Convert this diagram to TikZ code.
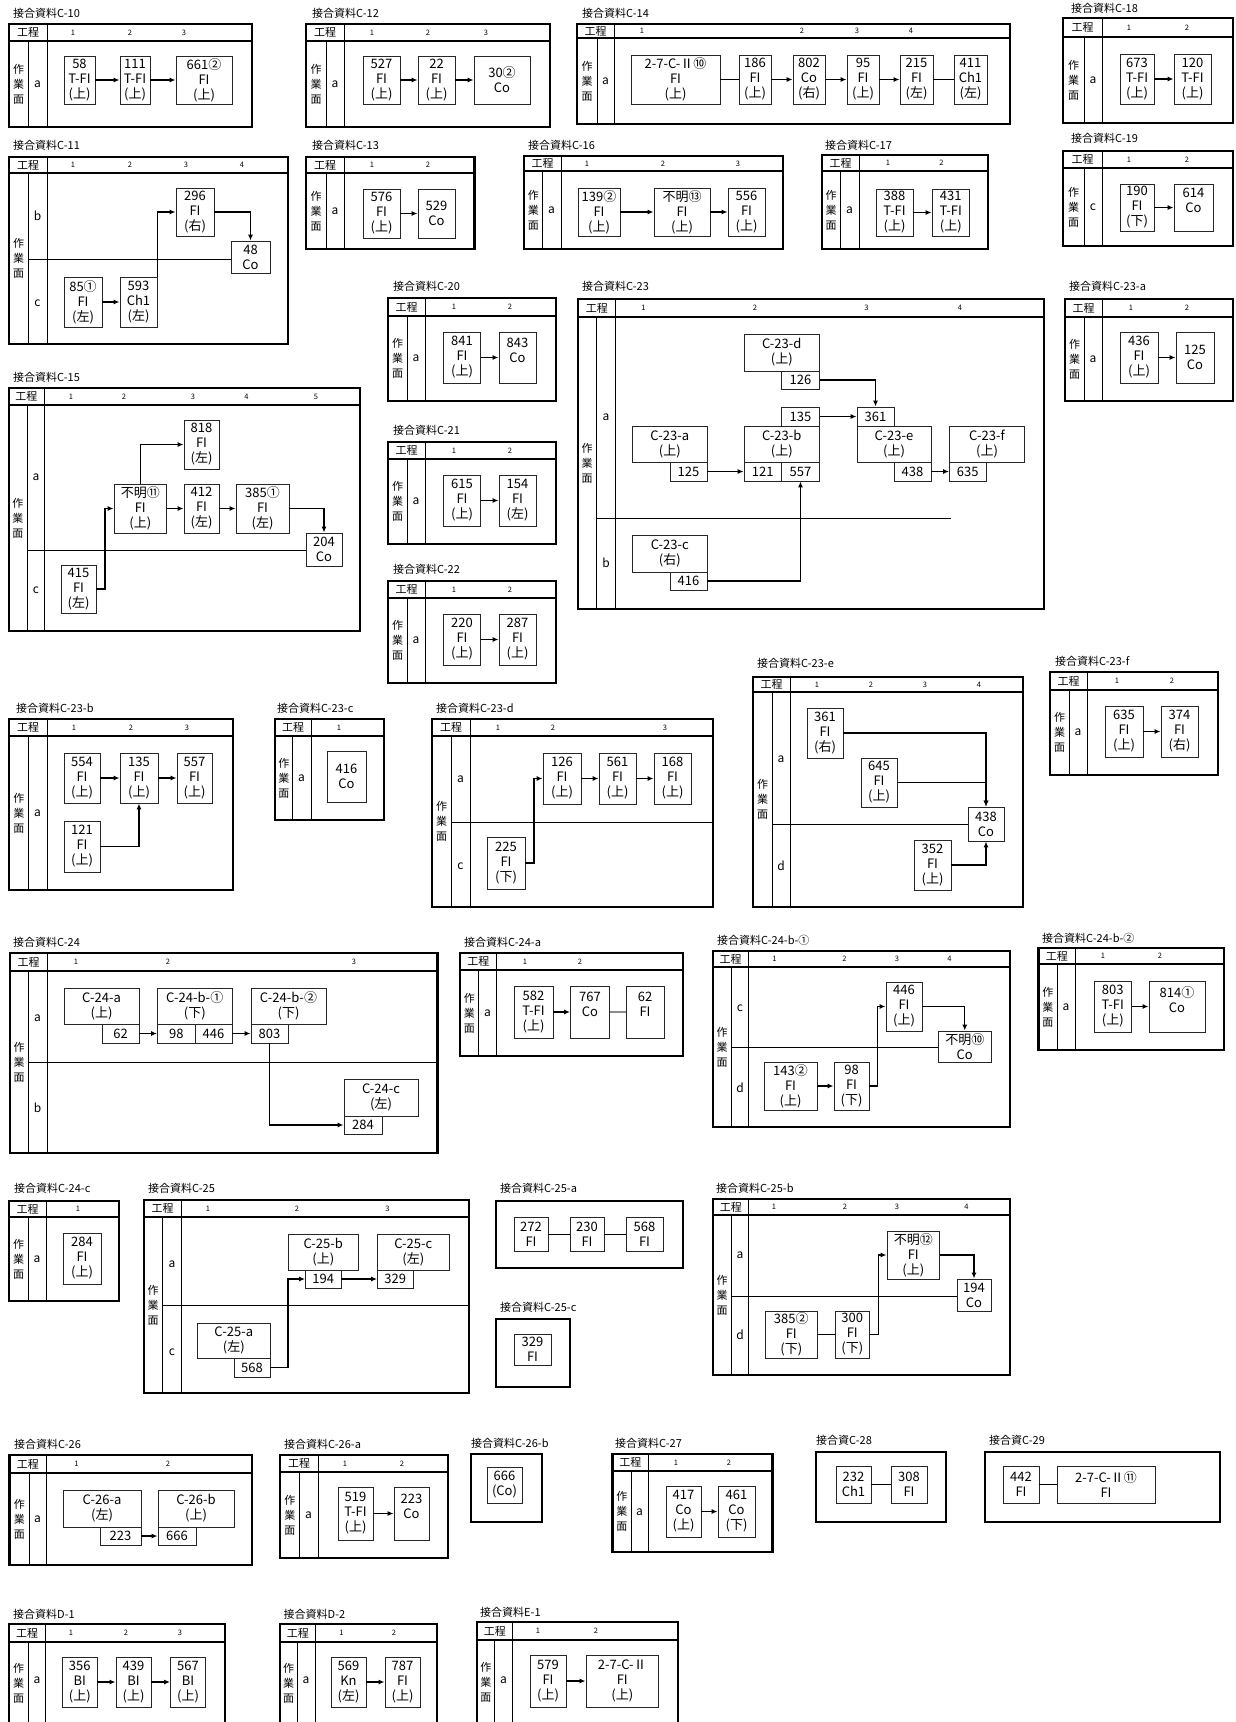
\documentclass[tikz,border=0pt]{standalone}
\usepackage{fontspec}
\setmainfont{Noto Sans CJK JP}
\usetikzlibrary{arrows.meta,calc}

% panel frame: id, left, top, right, bottom, header line, lane column, body column
\newcommand\panel[8]{%
  \draw[frm] (#2,#3) rectangle (#4,#5);
  \draw[hdr] (#2,#6) -- (#4,#6);
  \draw[rule] (#7,#6) -- (#7,#5);
  \draw[rule] (#8,#3) -- (#8,#5);
  \node[hd] (#1k) at ({(#2+#8)/2},{(#3+#6)/2}) {工程};
  \node[wk] (#1w) at ({(#2+#7)/2},{(#6+#5)/2}) {作\\業\\面};
}
% box by its corners: name, x1, y1, x2, y2, text
\newcommand\bx[6]{%
  \node[bx, minimum width={(#4-#2)*1pt}, minimum height={(#5-#3)*1pt}]
    (#1) at ({(#2+#4)/2},{(#3+#5)/2}) {#6};
}

\begin{document}
\begin{tikzpicture}[x=1pt, y=-1pt,
  frm/.style={line width=2.2pt},
  hdr/.style={line width=2pt},
  rule/.style={line width=0.8pt},
  bx/.style={draw=black!85, line width=0.9pt, fill=white, align=center,
             inner sep=0pt, font=\fontsize{13}{15}\selectfont},
  ttl/.style={anchor=west, inner sep=0pt, font=\fontsize{11}{12}\selectfont},
  hd/.style={inner sep=0pt, font=\fontsize{11}{12}\selectfont},
  wk/.style={inner sep=0pt, align=center, font=\fontsize{11}{15}\selectfont},
  cn/.style={inner sep=0pt, font=\fontsize{7.5}{8}\selectfont},
  lane/.style={inner sep=0pt, font=\fontsize{12}{12}\selectfont},
  arr/.style={-{Latex[length=6pt,width=5pt]}, line width=1.3pt},
  lnk/.style={line width=1.3pt}
]
\useasboundingbox (0,0) rectangle (1236,1722);

% C-10
\node[ttl] (tC10) at (13,13) {接合資料C-10};
\panel{pC10}{9}{24}{252}{127}{41}{28}{47}
\foreach \x/\n in {73/1,130/2,184/3} \node[cn] (pC10h\n) at (\x,32.5) {\n};
\node[lane] (pC10a) at (37.5,84) {a};
\bx{c10n58}{64}{56}{95}{104}{58\\T-FI\\(上)}
\bx{c10n111}{120}{56}{150}{104}{111\\T-FI\\(上)}
\bx{c10n661}{176}{56}{232}{104}{661②\\FI\\(上)}
\draw[arr] (c10n58) -- (c10n111);
\draw[arr] (c10n111) -- (c10n661);

% C-12
\node[ttl] (tC12) at (312,13) {接合資料C-12};
\panel{pC12}{306}{24}{550}{127}{41}{326}{344}
\foreach \x/\n in {372/1,428/2,486/3} \node[cn] (pC12h\n) at (\x,32.5) {\n};
\node[lane] (pC12a) at (335,84) {a};
\bx{c12n527}{363}{56}{400}{104}{527\\FI\\(上)}
\bx{c12n22}{418}{56}{455}{104}{22\\FI\\(上)}
\bx{c12n30}{474}{56}{530}{104}{30②\\Co}
\draw[arr] (c12n527) -- (c12n22);
\draw[arr] (c12n22) -- (c12n30);

% C-14
\node[ttl] (tC14) at (582,13) {接合資料C-14};
\panel{pC14}{577}{24}{1010}{124}{38}{597}{614}
\foreach \x/\n in {642/1,802/2,857/3,911/4} \node[cn] (pC14h\n) at (\x,31) {\n};
\node[lane] (pC14a) at (605.5,81) {a};
\bx{c14n27}{631}{55}{720}{104}{2-7-C-Ⅱ⑩\\FI\\(上)}
\bx{c14n186}{739}{55}{771}{104}{186\\FI\\(上)}
\bx{c14n802}{793}{55}{825}{104}{802\\Co\\(右)}
\bx{c14n95}{847}{55}{879}{104}{95\\FI\\(上)}
\bx{c14n215}{900}{55}{933}{104}{215\\FI\\(左)}
\bx{c14n411}{954}{55}{987}{104}{411\\Ch1\\(左)}
\draw[lnk] (c14n27) -- (c14n186);
\draw[arr] (c14n186) -- (c14n802);
\draw[arr] (c14n802) -- (c14n95);
\draw[arr] (c14n95) -- (c14n215);
\draw[lnk] (c14n215) -- (c14n411);

% C-18
\node[ttl] (tC18) at (1071,8) {接合資料C-18};
\panel{pC18}{1063}{18}{1233}{123}{37}{1084}{1102}
\foreach \x/\n in {1129/1,1187/2} \node[cn] (pC18h\n) at (\x,27.5) {\n};
\node[lane] (pC18a) at (1093,80) {a};
\bx{c18n673}{1120}{54}{1154}{104}{673\\T-FI\\(上)}
\bx{c18n120}{1174}{54}{1211}{104}{120\\T-FI\\(上)}
\draw[arr] (c18n673) -- (c18n120);

% C-11
\node[ttl] (tC11) at (13,145) {接合資料C-11};
\panel{pC11}{9}{157}{288}{344}{173}{28}{47}
\foreach \x/\n in {73/1,130/2,186/3,242/4} \node[cn] (pC11h\n) at (\x,165) {\n};
\draw[rule] (28,259) -- (231,259);
\node[lane] (pC11b) at (37.5,216) {b};
\node[lane] (pC11c) at (37.5,303) {c};
\bx{c11n296}{176}{188}{214}{236}{296\\FI\\(右)}
\bx{c11n48}{231}{241}{270}{273}{48\\Co}
\bx{c11n85}{64}{277}{102}{327}{85①\\FI\\(左)}
\bx{c11n593}{120}{277}{157}{327}{593\\Ch1\\(左)}
\draw[arr] (c11n85) -- (c11n593);
\draw[arr] (c11n593.north east) |- (c11n296.west);
\draw[arr] (c11n296.east) -| (c11n48.north);

% C-13
\node[ttl] (tC13) at (312,145) {接合資料C-13};
\panel{pC13}{306}{157}{474.5}{249}{173}{326}{344}
\foreach \x/\n in {372/1,428/2} \node[cn] (pC13h\n) at (\x,165) {\n};
\node[lane] (pC13a) at (335,211) {a};
\bx{c13n576}{363}{189}{400}{238}{576\\FI\\(上)}
\bx{c13n529}{418}{189}{455}{238}{529\\Co}
\draw[arr] (c13n576) -- (c13n529);

% C-16
\node[ttl] (tC16) at (528,145) {接合資料C-16};
\panel{pC16}{524}{156}{783}{249}{171}{542.5}{561}
\foreach \x/\n in {587/1,663/2,738/3} \node[cn] (pC16h\n) at (\x,163.5) {\n};
\node[lane] (pC16a) at (551.5,210) {a};
\bx{c16n139}{578}{188}{620}{236}{139②\\FI\\(上)}
\bx{c16n13}{654}{188}{710}{236}{不明⑬\\FI\\(上)}
\bx{c16n556}{728}{188}{765}{236}{556\\FI\\(上)}
\draw[arr] (c16n139) -- (c16n13);
\draw[arr] (c16n13) -- (c16n556);

% C-17
\node[ttl] (tC17) at (825,145) {接合資料C-17};
\panel{pC17}{822}{155}{988}{249}{171}{840}{859}
\foreach \x/\n in {888/1,941.5/2} \node[cn] (pC17h\n) at (\x,163) {\n};
\node[lane] (pC17a) at (849.5,210) {a};
\bx{c17n388}{876}{189}{913}{236}{388\\T-FI\\(上)}
\bx{c17n431}{932}{189}{969.5}{236}{431\\T-FI\\(上)}
\draw[arr] (c17n388) -- (c17n431);

% C-19
\node[ttl] (tC19) at (1071,138) {接合資料C-19};
\panel{pC19}{1063}{151}{1233}{246}{168}{1084}{1102}
\foreach \x/\n in {1129/1,1187/2} \node[cn] (pC19h\n) at (\x,159.5) {\n};
\node[lane] (pC19c) at (1093,207) {c};
\bx{c19n190}{1120}{184}{1154}{231}{190\\FI\\(下)}
\bx{c19n614}{1174}{184}{1213}{231}{614\\Co\\~}
\draw[arr] (c19n190) -- (c19n614);

% C-15
\node[ttl] (tC15) at (13,377) {接合資料C-15};
\panel{pC15}{9}{388}{360}{631}{405}{27}{44}
\foreach \x/\n in {71/1,124/2,193/3,246.5/4,316/5} \node[cn] (pC15h\n) at (\x,396.5) {\n};
\draw[rule] (27,550) -- (306,550);
\node[lane] (pC15a) at (36,477) {a};
\node[lane] (pC15c) at (36,590) {c};
\bx{c15n818}{184}{420}{219}{469}{818\\FI\\(左)}
\bx{c15n11}{114}{484}{166.5}{533}{不明⑪\\FI\\(上)}
\bx{c15n412}{184}{484}{219}{533}{412\\FI\\(左)}
\bx{c15n385}{236}{484}{289}{533}{385①\\FI\\(左)}
\bx{c15n204}{306}{533}{342}{566}{204\\Co}
\bx{c15n415}{61}{565}{96}{613}{415\\FI\\(左)}
\draw[arr] (c15n415.east) -- ++(8.5,0) |- (c15n11.west);
\draw[arr] (c15n11) -- (c15n412);
\draw[arr] (c15n412) -- (c15n385);
\draw[arr] (c15n385.east) -| (c15n204.north);
\draw[arr] (c15n11.north) |- (c15n818.west);

% C-20
\node[ttl] (tC20) at (393,286) {接合資料C-20};
\panel{pC20}{388}{298}{556}{401}{316}{407}{425}
\foreach \x/\n in {454/1,510/2} \node[cn] (pC20h\n) at (\x,307) {\n};
\node[lane] (pC20a) at (416,358.5) {a};
\bx{c20n841}{443.5}{332}{480.5}{383}{841\\FI\\(上)}
\bx{c20n843}{499}{332}{536}{383}{843\\Co\\~}
\draw[arr] (c20n841) -- (c20n843);

% C-21
\node[ttl] (tC21) at (393,430) {接合資料C-21};
\panel{pC21}{388}{442}{556}{544}{459}{407}{425}
\foreach \x/\n in {454/1,510/2} \node[cn] (pC21h\n) at (\x,450.5) {\n};
\node[lane] (pC21a) at (416,501.5) {a};
\bx{c21n615}{443.5}{475}{480.5}{526}{615\\FI\\(上)}
\bx{c21n154}{499}{475}{536}{526}{154\\FI\\(左)}
\draw[arr] (c21n615) -- (c21n154);

% C-22
\node[ttl] (tC22) at (393,569) {接合資料C-22};
\panel{pC22}{388}{581}{556}{683}{598}{407}{425}
\foreach \x/\n in {454/1,510/2} \node[cn] (pC22h\n) at (\x,589.5) {\n};
\node[lane] (pC22a) at (416,640.5) {a};
\bx{c22n220}{443.5}{614}{480.5}{665}{220\\FI\\(上)}
\bx{c22n287}{499}{614}{536}{665}{287\\FI\\(上)}
\draw[arr] (c22n220) -- (c22n287);

% C-23
\node[ttl] (tC23) at (582,286) {接合資料C-23};
\panel{pC23}{578}{299}{1044}{609}{317}{596}{615.5}
\foreach \x/\n in {643.5/1,755/2,866.5/3,960/4} \node[cn] (pC23h\n) at (\x,308) {\n};
\draw[rule] (596,518) -- (951,518);
\node[lane] (pC23a) at (606,417) {a};
\node[lane] (pC23b) at (606,563) {b};
\bx{c23d}{744}{334}{819.5}{371}{C-23-d\\(上)}
\bx{c23d126}{781.5}{371}{819.5}{389}{126}
\bx{c23b135}{781.5}{407}{819.5}{426}{135}
\bx{c23b}{744}{426}{819.5}{462}{C-23-b\\(上)}
\bx{c23b121}{744}{462}{781.5}{481}{121}
\bx{c23b557}{781.5}{462}{819.5}{481}{557}
\bx{c23a}{632.5}{426}{707}{462}{C-23-a\\(上)}
\bx{c23a125}{670}{462}{707}{481}{125}
\bx{c23e361}{857}{407}{894}{426}{361}
\bx{c23e}{857}{426}{931}{462}{C-23-e\\(上)}
\bx{c23e438}{894}{462}{931}{481}{438}
\bx{c23f}{949.5}{426}{1024.5}{462}{C-23-f\\(上)}
\bx{c23f635}{949.5}{462}{986}{481}{635}
\bx{c23c}{632.5}{535}{707}{572}{C-23-c\\(右)}
\bx{c23c416}{670}{572}{707}{590}{416}
\draw[arr] (c23d126.east) -| (c23e361.north);
\draw[arr] (c23b135) -- (c23e361);
\draw[arr] (c23a125) -- (c23b121);
\draw[arr] (c23e438) -- (c23f635);
\draw[arr] (c23c416.east) -| (c23b557.south);

% C-23-a
\node[ttl] (tC23a) at (1069,286) {接合資料C-23-a};
\panel{pC23a}{1065}{299}{1233}{401}{317}{1084}{1102}
\foreach \x/\n in {1131/1,1187/2} \node[cn] (pC23ah\n) at (\x,308) {\n};
\node[lane] (pC23aa) at (1093,359) {a};
\bx{c23an436}{1120}{332}{1158}{383}{436\\FI\\(上)}
\bx{c23an125}{1176}{332}{1214}{383}{125\\Co}
\draw[arr] (c23an436) -- (c23an125);

% C-23-b
\node[ttl] (tC23b) at (16,708) {接合資料C-23-b};
\panel{pC23b}{9}{719}{233}{890}{736}{28.5}{47}
\foreach \x/\n in {74/1,131/2,187/3} \node[cn] (pC23bh\n) at (\x,727.5) {\n};
\node[lane] (pC23ba) at (37.5,813) {a};
\bx{c23bn554}{64}{753}{100}{803}{554\\FI\\(上)}
\bx{c23bn135}{120}{753}{158}{803}{135\\FI\\(上)}
\bx{c23bn557}{177}{753}{212}{803}{557\\FI\\(上)}
\bx{c23bn121}{64}{821}{100}{872}{121\\FI\\(上)}
\draw[arr] (c23bn554) -- (c23bn135);
\draw[arr] (c23bn135) -- (c23bn557);
\draw[arr] (c23bn121.east) -| (c23bn135.south);

% C-23-c
\node[ttl] (tC23c) at (277,708) {接合資料C-23-c};
\panel{pC23c}{275}{719}{384}{820}{736}{292.5}{311}
\node[cn] (pC23ch1) at (339,727.5) {1};
\node[lane] (pC23ca) at (301.5,778) {a};
\bx{c23cn416}{327}{751}{366}{802}{416\\Co}

% C-23-d
\node[ttl] (tC23d) at (436,708) {接合資料C-23-d};
\panel{pC23d}{432}{719}{713}{907}{736}{451}{470}
\foreach \x/\n in {498/1,553/2,665/3} \node[cn] (pC23dh\n) at (\x,727.5) {\n};
\draw[rule] (451,822) -- (713,822);
\node[lane] (pC23da) at (460.5,779) {a};
\node[lane] (pC23dc) at (460.5,866) {c};
\bx{c23dn126}{543}{753}{581}{804}{126\\FI\\(上)}
\bx{c23dn561}{599}{753}{636}{804}{561\\FI\\(上)}
\bx{c23dn168}{654}{753}{691}{804}{168\\FI\\(上)}
\bx{c23dn225}{487}{837}{525}{889}{225\\FI\\(下)}
\draw[arr] (c23dn225.east) -- ++(8.5,0) |- (c23dn126.west);
\draw[arr] (c23dn126) -- (c23dn561);
\draw[arr] (c23dn561) -- (c23dn168);

% C-23-e
\node[ttl] (tC23e) at (757,663) {接合資料C-23-e};
\panel{pC23e}{753}{677}{1023}{907}{692}{772}{790}
\foreach \x/\n in {817/1,871/2,925/3,979/4} \node[cn] (pC23eh\n) at (\x,684.5) {\n};
\draw[rule] (772,824) -- (968,824);
\node[lane] (pC23ea) at (781,759) {a};
\node[lane] (pC23ed) at (781,866) {d};
\bx{c23en361}{807}{708}{843}{758}{361\\FI\\(右)}
\bx{c23en645}{861}{758}{897}{807}{645\\FI\\(上)}
\bx{c23en438}{968}{807}{1004}{841}{438\\Co}
\bx{c23en352}{914}{840}{951}{890}{352\\FI\\(上)}
\draw[arr] (c23en361.east) -| (c23en438.north);
\draw[arr] (c23en645.east) -| (c23en438.north);
\draw[arr] (c23en352.east) -| (c23en438.south);

% C-23-f
\node[ttl] (tC23f) at (1055,661) {接合資料C-23-f};
\panel{pC23f}{1050}{672}{1218}{775}{690}{1069}{1087}
\foreach \x/\n in {1117/1,1172/2} \node[cn] (pC23fh\n) at (\x,681) {\n};
\node[lane] (pC23fa) at (1078,732) {a};
\bx{c23fn635}{1105}{706}{1143}{757}{635\\FI\\(上)}
\bx{c23fn374}{1161}{706}{1198}{757}{374\\FI\\(右)}
\draw[arr] (c23fn635) -- (c23fn374);

% C-24
\node[ttl] (tC24) at (13,942) {接合資料C-24};
\panel{pC24}{10}{953}{437.5}{1153}{971}{28}{47}
\foreach \x/\n in {76/1,168/2,354/3} \node[cn] (pC24h\n) at (\x,962) {\n};
\draw[rule] (28,1062) -- (437.5,1062);
\node[lane] (pC24a) at (37.5,1018) {a};
\node[lane] (pC24b) at (37.5,1108) {b};
\bx{c24a}{64}{988}{139}{1024}{C-24-a\\(上)}
\bx{c24a62}{102}{1024}{139}{1043}{62}
\bx{c24b1}{157.5}{988}{232}{1024}{C-24-b-①\\(下)}
\bx{c24b98}{157.5}{1024}{195}{1043}{98}
\bx{c24b446}{195}{1024}{232}{1043}{446}
\bx{c24b2}{251}{988}{326}{1024}{C-24-b-②\\(下)}
\bx{c24b803}{251}{1024}{288}{1043}{803}
\bx{c24c}{344}{1079}{418}{1116}{C-24-c\\(左)}
\bx{c24c284}{344}{1116}{382}{1134}{284}
\draw[arr] (c24a62) -- (c24b98);
\draw[arr] (c24b446) -- (c24b803);
\draw[arr] (c24b803.south) |- (c24c284.west);

% C-24-a
\node[ttl] (tC24a) at (464,942) {接合資料C-24-a};
\panel{pC24a}{460}{953}{683}{1056}{970}{478.5}{496.5}
\foreach \x/\n in {525/1,580/2} \node[cn] (pC24ah\n) at (\x,961.5) {\n};
\node[lane] (pC24aa) at (487.5,1013) {a};
\bx{c24an582}{514}{986}{553}{1038}{582\\T-FI\\(上)}
\bx{c24an767}{570.5}{986}{609.5}{1038}{767\\Co\\~}
\bx{c24an62}{626}{986}{664}{1038}{62\\FI\\~}
\draw[arr] (c24an582) -- (c24an767);
\draw[lnk, black!45] (c24an767) -- (c24an62);

% C-24-b-1
\node[ttl] (tC24b1) at (717,940) {接合資料C-24-b-①};
\panel{pC24b1}{713}{951}{1010}{1127}{967}{731}{748}
\foreach \x/\n in {774.5/1,844.5/2,897/3,949.5/4} \node[cn] (pC24b1h\n) at (\x,959) {\n};
\draw[rule] (731,1047) -- (938.5,1047);
\node[lane] (pC24b1c) at (740,1008) {c};
\node[lane] (pC24b1d) at (740,1088) {d};
\bx{c24b1n446}{886}{982}{922}{1031}{446\\FI\\(上)}
\bx{c24b1n10}{938.5}{1031}{991}{1062}{不明⑩\\Co}
\bx{c24b1n143}{764}{1062}{817}{1110}{143②\\FI\\(上)}
\bx{c24b1n98}{834}{1062}{869}{1110}{98\\FI\\(下)}
\draw[arr] (c24b1n143) -- (c24b1n98);
\draw[arr] (c24b1n98.east) -- ++(8,0) |- (c24b1n446.west);
\draw[arr] (c24b1n446.east) -| (c24b1n10.north);

% C-24-b-2
\node[ttl] (tC24b2) at (1042,938) {接合資料C-24-b-②};
\panel{pC24b2}{1038.5}{948}{1224}{1050}{964}{1057}{1075}
\foreach \x/\n in {1103/1,1160/2} \node[cn] (pC24b2h\n) at (\x,956) {\n};
\node[lane] (pC24b2a) at (1066,1007) {a};
\bx{c24b2n803}{1094}{981}{1131.5}{1032}{803\\T-FI\\(上)}
\bx{c24b2n814}{1149}{981}{1205}{1032}{814①\\Co\\~}
\draw[arr] (c24b2n803) -- (c24b2n814);

% C-24-c
\node[ttl] (tC24c) at (14,1188) {接合資料C-24-c};
\panel{pC24c}{9}{1201}{119}{1301}{1217}{28}{46}
\node[cn] (pC24ch1) at (78,1209) {1};
\node[lane] (pC24ca) at (37,1259) {a};
\bx{c24cn284}{63}{1233}{101}{1284}{284\\FI\\(上)}

% C-25
\node[ttl] (tC25) at (148,1188) {接合資料C-25};
\panel{pC25}{144}{1200}{469}{1393}{1217}{162}{181}
\foreach \x/\n in {208/1,297/2,387.5/3} \node[cn] (pC25h\n) at (\x,1208.5) {\n};
\draw[rule] (162,1305) -- (469,1305);
\node[lane] (pC25a) at (172,1264) {a};
\node[lane] (pC25c) at (172,1352) {c};
\bx{c25b}{288}{1234}{358.5}{1270}{C-25-b\\(上)}
\bx{c25b194}{305.5}{1270}{341}{1288}{194}
\bx{c25c}{377.5}{1234}{449}{1270}{C-25-c\\(左)}
\bx{c25c329}{377.5}{1270}{413}{1288}{329}
\bx{c25a}{197.5}{1323}{270}{1358}{C-25-a\\(左)}
\bx{c25a568}{234}{1358}{270}{1377}{568}
\draw[arr] (c25a568.east) -- ++(17.5,0) |- (c25b194.west);
\draw[arr] (c25b194) -- (c25c329);

% C-25-a
\node[ttl] (tC25a) at (500,1188) {接合資料C-25-a};
\draw[frm] (496,1201) rectangle (683,1268);
\bx{c25an272}{514}{1217}{548}{1251}{272\\FI}
\bx{c25an230}{570}{1217}{604}{1251}{230\\FI}
\bx{c25an568}{626}{1217}{663}{1251}{568\\FI}
\draw[rule] (c25an272) -- (c25an230);
\draw[rule] (c25an230) -- (c25an568);

% C-25-c
\node[ttl] (tC25c) at (500,1307) {接合資料C-25-c};
\draw[frm] (496,1319) rectangle (570,1387);
\bx{c25cn329}{514}{1334}{551}{1365}{329\\FI}

% C-25-b
\node[ttl] (tC25b) at (716,1188) {接合資料C-25-b};
\panel{pC25b}{713}{1199}{1010}{1375}{1215}{731}{748.5}
\foreach \x/\n in {774/1,845/2,897/3,966.5/4} \node[cn] (pC25bh\n) at (\x,1207) {\n};
\draw[rule] (731,1296) -- (957,1296);
\node[lane] (pC25ba) at (740,1255) {a};
\node[lane] (pC25bd) at (740,1335) {d};
\bx{c25bn12}{887}{1231}{939.5}{1279}{不明⑫\\FI\\(上)}
\bx{c25bn194}{957}{1279}{991}{1311}{194\\Co}
\bx{c25bn385}{765.5}{1311}{817}{1358}{385②\\FI\\(下)}
\bx{c25bn300}{835}{1311}{869.5}{1358}{300\\FI\\(下)}
\draw[lnk] (c25bn385) -- (c25bn300);
\draw[arr] (c25bn300.east) -- ++(8.5,0) |- (c25bn12.west);
\draw[arr] (c25bn12.east) -| (c25bn194.north);

% C-26
\node[ttl] (tC26) at (14,1444) {接合資料C-26};
\panel{pC26}{9.5}{1455}{252}{1565}{1473}{29}{46}
\foreach \x/\n in {76.5/1,168/2} \node[cn] (pC26h\n) at (\x,1464) {\n};
\node[lane] (pC26a) at (37.5,1519) {a};
\bx{c26a}{63}{1490}{141}{1527}{C-26-a\\(左)}
\bx{c26a223}{100}{1527}{141}{1545}{223}
\bx{c26b}{158}{1490}{234}{1527}{C-26-b\\(上)}
\bx{c26b666}{158}{1527}{196}{1545}{666}
\draw[arr] (c26a223) -- (c26b666);

% C-26-a
\node[ttl] (tC26a) at (284,1444) {接合資料C-26-a};
\panel{pC26a}{280}{1455}{448}{1558}{1472}{299.5}{318}
\foreach \x/\n in {345/1,402/2} \node[cn] (pC26ah\n) at (\x,1463.5) {\n};
\node[lane] (pC26aa) at (308.5,1515) {a};
\bx{c26an519}{338}{1487}{373}{1540}{519\\T-FI\\(上)}
\bx{c26an223}{394}{1487}{429}{1540}{223\\Co\\~}
\draw[arr] (c26an519) -- (c26an223);

% C-26-b
\node[ttl] (tC26b) at (471,1443) {接合資料C-26-b};
\draw[frm] (471,1454) rectangle (542,1522);
\bx{c26bn666}{487}{1467}{522}{1503}{666\\(Co)}

% C-27
\node[ttl] (tC27) at (615,1443) {接合資料C-27};
\panel{pC27}{612.5}{1454}{772.5}{1552}{1471}{631}{648}
\foreach \x/\n in {676/1,729/2} \node[cn] (pC27h\n) at (\x,1462.5) {\n};
\node[lane] (pC27a) at (639.5,1512) {a};
\bx{c27n417}{666}{1486}{701}{1537}{417\\Co\\(上)}
\bx{c27n461}{718}{1486}{755}{1537}{461\\Co\\(下)}
\draw[arr] (c27n417) -- (c27n461);

% C-28
\node[ttl] (tC28) at (816,1440) {接合資C-28};
\draw[frm] (816,1452) rectangle (946,1522);
\bx{c28n232}{836}{1466}{871}{1503}{232\\Ch1}
\bx{c28n308}{891}{1466}{927}{1503}{308\\FI}
\draw[rule] (c28n232) -- (c28n308);

% C-29
\node[ttl] (tC29) at (989,1440) {接合資C-29};
\draw[frm] (985,1452) rectangle (1220,1522);
\bx{c29n442}{1003}{1466}{1039}{1503}{442\\FI}
\bx{c29n27}{1057}{1466}{1155}{1503}{2-7-C-Ⅱ⑪\\FI}
\draw[rule] (c29n442) -- (c29n27);

% D-1
\node[ttl] (tD1) at (13,1614) {接合資料D-1};
\panel{pD1}{9}{1624}{225}{1724}{1642}{28}{45.5}
\foreach \x/\n in {71/1,126/2,180/3} \node[cn] (pD1h\n) at (\x,1633) {\n};
\node[lane] (pD1a) at (37,1680) {a};
\bx{d1n356}{62.5}{1657}{97}{1707}{356\\BI\\(上)}
\bx{d1n439}{116}{1657}{151}{1707}{439\\BI\\(上)}
\bx{d1n567}{170.5}{1657}{205.5}{1707}{567\\BI\\(上)}
\draw[arr] (d1n356) -- (d1n439);
\draw[arr] (d1n439) -- (d1n567);

% D-2
\node[ttl] (tD2) at (283.5,1614) {接合資料D-2};
\panel{pD2}{280}{1624}{437}{1724}{1642}{297}{315.5}
\foreach \x/\n in {341.5/1,394/2} \node[cn] (pD2h\n) at (\x,1633) {\n};
\node[lane] (pD2a) at (306,1680) {a};
\bx{d2n569}{331}{1657}{366}{1707}{569\\Kn\\(左)}
\bx{d2n787}{385}{1657}{420}{1707}{787\\FI\\(上)}
\draw[arr] (d2n569) -- (d2n787);

% E-1
\node[ttl] (tE1) at (480,1612) {接合資料E-1};
\panel{pE1}{477}{1622}{678}{1724}{1640}{494.5}{512.5}
\foreach \x/\n in {538/1,596/2} \node[cn] (pE1h\n) at (\x,1631) {\n};
\node[lane] (pE1a) at (503.5,1680) {a};
\bx{e1n579}{530}{1655}{566}{1707}{579\\FI\\(上)}
\bx{e1n27}{586}{1655}{658.5}{1707}{2-7-C-Ⅱ\\FI\\(上)}
\draw[arr] (e1n579) -- (e1n27);
\end{tikzpicture}
\end{document}
